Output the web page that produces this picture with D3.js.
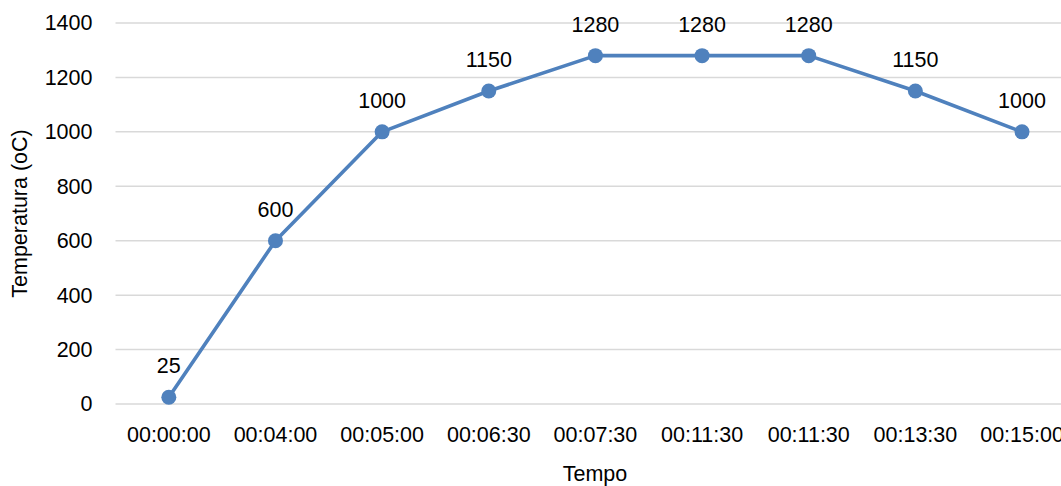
<!DOCTYPE html>
<html>
<head>
<meta charset="utf-8">
<script src="https://cdn.jsdelivr.net/npm/d3@7"></script>
<style>
  html, body { margin: 0; padding: 0; background: #fff; overflow: hidden; }
  svg { display: block; font-family: "Liberation Sans", Arial, sans-serif; }
</style>
</head>
<body>
<svg id="chart" width="1061" height="486"></svg>
<script>
// Furnace temperature profile: time steps and temperatures
const categories = ["00:00:00", "00:04:00", "00:05:00", "00:06:30", "00:07:30", "00:11:30", "00:11:30", "00:13:30", "00:15:00"];
const temperatures = [25, 600, 1000, 1150, 1280, 1280, 1280, 1150, 1000];
const yTicks = [0, 200, 400, 600, 800, 1000, 1200, 1400];

const svg = d3.select("#chart");
const margin = { left: 115.5, top: 23, bottom: 82 };
const bandW = 106.65;
const plotW = bandW * categories.length;
const plotH = 486 - margin.top - margin.bottom;

const idx = categories.map((c, i) => i);
const x = d3.scaleBand().domain(idx).range([margin.left, margin.left + plotW]);
const y = d3.scaleLinear().domain([0, 1400]).range([margin.top + plotH, margin.top]);

const color = "#4F81BD";
const fontSize = 21.5;
const font = "Liberation Sans, Arial, sans-serif";

// horizontal gridlines
svg.append("g")
  .selectAll("line")
  .data(yTicks)
  .join("line")
  .attr("x1", margin.left)
  .attr("x2", margin.left + plotW)
  .attr("y1", d => y(d))
  .attr("y2", d => y(d))
  .attr("stroke", "#d9d9d9")
  .attr("stroke-width", 1.5);

// y axis labels
const yAxis = d3.axisLeft(y).tickValues(yTicks).tickFormat(d3.format("d")).tickSize(0).tickPadding(23);
const gy = svg.append("g").attr("transform", `translate(${margin.left},0)`).call(yAxis);
gy.attr("font-size", fontSize).attr("font-family", font);
gy.select(".domain").remove();
gy.selectAll("text").attr("fill", "#000");

// x axis labels
const xAxis = d3.axisBottom(x).tickFormat(i => categories[i]).tickSize(0).tickPadding(23);
const gx = svg.append("g").attr("transform", `translate(0,${y(0)})`).call(xAxis);
gx.attr("font-size", fontSize).attr("font-family", font);
gx.select(".domain").remove();
gx.selectAll("text").attr("fill", "#000");

// series line
const cx = i => x(i) + x.bandwidth() / 2;
svg.append("path")
  .datum(temperatures)
  .attr("fill", "none")
  .attr("stroke", color)
  .attr("stroke-width", 3.6)
  .attr("stroke-linejoin", "round")
  .attr("d", d3.line().x((d, i) => cx(i)).y(d => y(d)));

// markers
svg.append("g")
  .selectAll("circle")
  .data(temperatures)
  .join("circle")
  .attr("cx", (d, i) => cx(i))
  .attr("cy", d => y(d))
  .attr("r", 7.5)
  .attr("fill", color);

// value labels
svg.append("g")
  .selectAll("text")
  .data(temperatures)
  .join("text")
  .attr("x", (d, i) => cx(i))
  .attr("y", d => y(d) - 24)
  .attr("text-anchor", "middle")
  .attr("font-size", fontSize)
  .attr("fill", "#000")
  .text(d => d);

// axis titles
svg.append("text")
  .attr("x", 595)
  .attr("y", 481)
  .attr("text-anchor", "middle")
  .attr("font-size", fontSize)
  .attr("fill", "#000")
  .text("Tempo");

svg.append("text")
  .attr("transform", `translate(27,${y(700)}) rotate(-90)`)
  .attr("text-anchor", "middle")
  .attr("font-size", fontSize)
  .attr("fill", "#000")
  .text("Temperatura (oC)");
</script>
</body>
</html>
